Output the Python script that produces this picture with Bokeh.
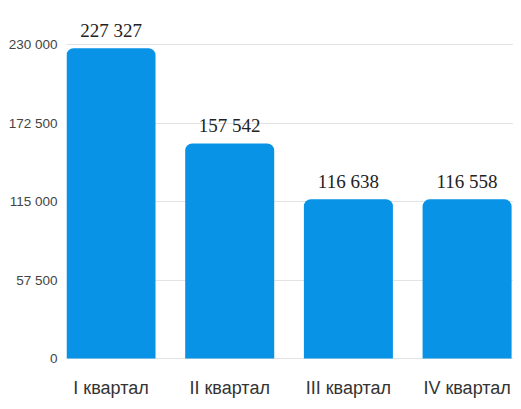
from bokeh.plotting import figure
from bokeh.models import Range1d, FixedTicker, ColumnDataSource
from bokeh.embed import file_html
from bokeh.resources import INLINE
from bokeh.core.properties import value

categories = ["I квартал", "II квартал", "III квартал", "IV квартал"]
values = [227327, 157542, 116638, 116558]
value_labels = ["227 327", "157 542", "116 638", "116 558"]
y_ticks = [0, 57500, 115000, 172500, 230000]
y_tick_labels = ["0", "57 500", "115 000", "172 500", "230 000"]

xs = list(range(len(categories)))
src = ColumnDataSource(dict(x=xs, top=values, lab=value_labels, cat=categories,
                            base=[0] * len(xs)))

# frame runs from 8px below the top to the bottom of the canvas; the value axis
# keeps 314px for 230 000 and leaves 43px below zero for the category names
p = figure(width=513, height=401, output_backend="svg", toolbar_location=None,
           x_range=Range1d(-0.375, 3.391), y_range=Range1d(-31497, 256370),
           min_border_top=8, min_border_right=0, min_border_left=66, min_border_bottom=0)
p.outline_line_color = None
p.background_fill_color = "white"

p.vbar(x="x", top="top", width=0.75, bottom=0, source=src, fill_color="#0893E6",
       line_color=None, border_radius=(7, 7, 0, 0))
p.text(x="x", y="top", text="lab", source=src, text_align="center", text_baseline="alphabetic",
       y_offset=-18, text_font=value("Liberation Serif"), text_font_size="19px", text_color="#222222")
p.text(x="x", y="base", text="cat", source=src, text_align="center", text_baseline="alphabetic",
       y_offset=30, text_font=value("Liberation Sans"), text_font_size="18px", text_color="#333333")

p.xgrid.grid_line_color = None
p.ygrid.grid_line_color = "#e3e3e3"
p.ygrid.ticker = FixedTicker(ticks=y_ticks)

p.yaxis.ticker = FixedTicker(ticks=y_ticks)
p.yaxis.major_label_overrides = {t: l for t, l in zip(y_ticks, y_tick_labels)}
p.yaxis.axis_line_color = None
p.yaxis.major_tick_line_color = None
p.yaxis.minor_tick_line_color = None
p.yaxis.major_tick_out = 0
p.yaxis.minor_tick_out = 0
p.yaxis.major_label_text_font = "Liberation Sans"
p.yaxis.major_label_text_font_size = "13.5px"
p.yaxis.major_label_text_color = "#444444"
p.yaxis.major_label_standoff = 9

p.xaxis.visible = False

open("out.html", "w").write(file_html(p, INLINE))
